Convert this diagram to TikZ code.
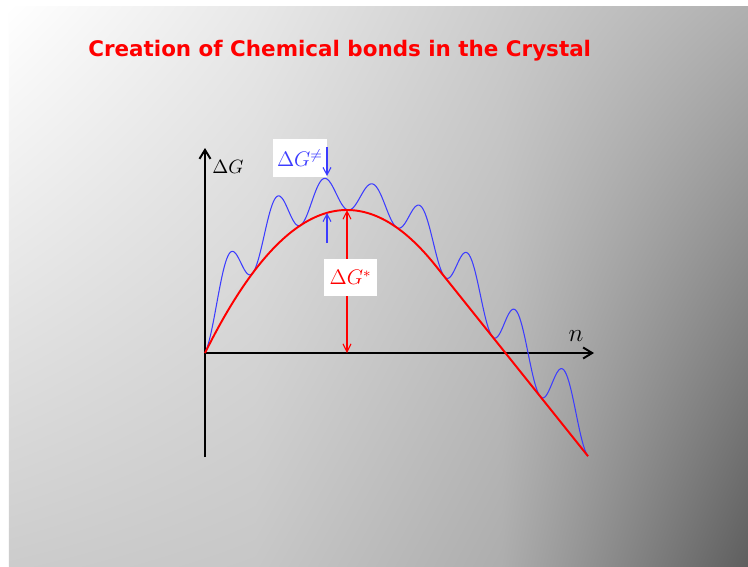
\documentclass[tikz,border=0pt]{standalone}
\usepackage{fontspec}
\newfontfamily\titlefont{DejaVu Sans}
\usepackage{amsmath,amssymb}
\definecolor{cgred}{RGB}{255,0,0}
\definecolor{cgblue}{RGB}{60,60,255}
\definecolor{bgta}{gray}{0.91}
\definecolor{bgtb}{gray}{0.80}
\definecolor{bgtc}{gray}{0.69}
\definecolor{bgbw}{gray}{0.80}
\definecolor{bgba}{gray}{0.78}
\definecolor{bgbb}{gray}{0.68}
\definecolor{bgbc}{gray}{0.37}
\usetikzlibrary{arrows.meta,positioning,shadings}

\begin{document}
\begin{tikzpicture}[x=0.2mm, y=0.2mm,
  declare function={
    gred(\u)=(\u<230)*(143-70.92*((\u-142)/100)*((\u-142)/100))+(\u>=230)*(88.1-1.25*(\u-230));
    hbump(\u)=56-26*exp(-((\u-155)/75)*((\u-155)/75));
    gblue(\u)=gred(\u)+hbump(\u)*(1-cos(7.5196*\u))/2;},
  axis/.style={line width=1.1pt, -{Straight Barb[length=1.8mm,width=2.2mm]}},
  gap/.style={cgblue, line width=0.6pt, -{Straight Barb[length=1.5mm,width=1.6mm]}},
  lbox/.style={fill=white, minimum width=1.07cm, minimum height=0.75cm, inner sep=1pt, font=\fontsize{12}{14}\selectfont}]
\useasboundingbox (-205,-213) rectangle (543,353);
\fill[white] (-205,-213) rectangle (543,353);
\shade[upper left=white, upper right=bgta, lower left=bgbw, lower right=bgba] (-196,-213) rectangle (50.5,347);
\shade[upper left=bgta, upper right=bgtb, lower left=bgba, lower right=bgbb] (50,-213) rectangle (297.5,347);
\shade[upper left=bgtb, upper right=bgtc, lower left=bgbb, lower right=bgbc] (297,-213) rectangle (543,347);

\node[anchor=base west, inner sep=0pt, text=cgred, font=\titlefont\bfseries\fontsize{12.2}{14}\selectfont] (title) at (-117,297) {Creation of Chemical bonds in the Crystal};

\coordinate (O) at (0,0);
\coordinate (ybot) at (0,-104);
\coordinate (ytop) at (0,205);
\coordinate (xend) at (389,0);
\draw[axis] (ybot) -- (ytop);
\draw[axis] (O) -- (xend);
\node[font=\fontsize{11}{13}\selectfont] (ylab) at (23,186) {$\Delta G$};
\node[font=\Large] (xlab) at (371,17) {$n$};

\draw[cgblue, line width=0.6pt] plot[domain=0:383, samples=320] (\x,{gblue(\x)});
\draw[cgred, line width=1.1pt] plot[domain=0:383, samples=200] (\x,{gred(\x)});

\coordinate (top) at (142,143);
\coordinate (foot) at (142,0);
\draw[cgred, line width=0.6pt, {Straight Barb[length=1.6mm,width=1.6mm]}-{Straight Barb[length=1.6mm,width=1.6mm]}] (top) -- (foot);
\node[lbox, text=cgred] (dgstar) at (145.5,75.5) {$\Delta G^{*}$};

\node[lbox, text=cgblue] (dgneq) at (95,195) {$\Delta G^{\neq}$};
\coordinate (hi1) at (122,206);
\coordinate (hi2) at (122,177);
\coordinate (lo1) at (122,110);
\coordinate (lo2) at (122,140);
\draw[gap] (hi1) -- (hi2);
\draw[gap] (lo1) -- (lo2);
\end{tikzpicture}
\end{document}
